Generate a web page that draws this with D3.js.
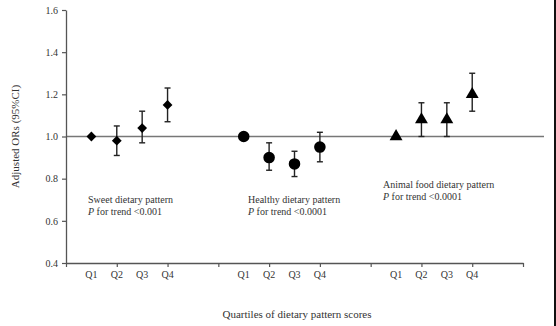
<!DOCTYPE html>
<html><head><meta charset="utf-8">
<script src="https://cdn.jsdelivr.net/npm/d3@7"></script>
<style>body{margin:0;background:#fff}svg{display:block}text{font-family:"Liberation Serif","Times New Roman",serif;fill:#333}</style>
</head><body><svg id="c" width="556" height="326"></svg>
<script>
const quartiles = ["Q1","Q2","Q3","Q4"];
const patterns = ["Sweet dietary pattern","Healthy dietary pattern","Animal food dietary pattern"];
const trendLabels = ["<0.001","<0.0001","<0.0001"];
const sweetOR = [1.00,0.98,1.04,1.15];
const sweetLo = [1.00,0.91,0.97,1.07];
const sweetHi = [1.00,1.05,1.12,1.23];
const healthyOR = [1.00,0.90,0.87,0.95];
const healthyLo = [1.00,0.84,0.81,0.88];
const healthyHi = [1.00,0.97,0.93,1.02];
const animalOR = [1.00,1.08,1.08,1.20];
const animalLo = [1.00,1.00,1.00,1.12];
const animalHi = [1.00,1.16,1.16,1.30];
const yTicks = [0.4,0.6,0.8,1.0,1.2,1.4,1.6];

const svg = d3.select("#c");
const x = d3.scaleLinear().domain([0,9]).range([66,523]);
const y = d3.scaleLinear().domain([0.4,1.6]).range([263,10]);
const axisColor = "#555";

const groups = [
  {or:sweetOR, lo:sweetLo, hi:sweetHi, shape:"diamond", off:0},
  {or:healthyOR, lo:healthyLo, hi:healthyHi, shape:"circle", off:3},
  {or:animalOR, lo:animalLo, hi:animalHi, shape:"triangle", off:6}
];
const qPos = [0.5,1,1.5,2];

svg.append("line").attr("x1",x(0)).attr("x2",544).attr("y1",y(1)).attr("y2",y(1))
  .attr("stroke","#777").attr("stroke-width",1.6);

const ya = svg.append("g").attr("transform",`translate(${x(0)},0)`)
  .call(d3.axisLeft(y).tickValues(yTicks).tickFormat(d3.format(".1f")).tickSize(4).tickSizeOuter(0));
ya.select(".domain").attr("stroke",axisColor).attr("stroke-width",1.3);
ya.selectAll(".tick line").attr("stroke",axisColor).attr("stroke-width",1.2);
ya.selectAll("text").attr("font-size",10).attr("fill","#333").attr("dx","-1px");

const xa = svg.append("g").attr("transform",`translate(0,${y(0.4)})`)
  .call(d3.axisBottom(x).tickValues(d3.range(0,10)).tickFormat("").tickSize(4).tickSizeOuter(0));
xa.select(".domain").attr("stroke",axisColor).attr("stroke-width",1.3);
xa.selectAll(".tick line").attr("stroke",axisColor).attr("stroke-width",1.2);

groups.forEach(g=>{
  quartiles.forEach((q,i)=>{
    svg.append("text").attr("x",x(g.off+qPos[i])).attr("y",278)
      .attr("text-anchor","middle").attr("font-size",10).text(q);
  });
});

const symFor = s => s==="circle" ? d3.symbol().type(d3.symbolCircle).size(105)()
  : s==="triangle" ? d3.symbol().type(d3.symbolTriangle).size(72)()
  : d3.symbol().type(d3.symbolSquare).size(48)();

groups.forEach(g=>{
  g.or.forEach((v,i)=>{
    const cx = x(g.off+qPos[i]);
    if (g.hi[i] !== g.lo[i]) {
      svg.append("line").attr("x1",cx).attr("x2",cx).attr("y1",y(g.lo[i])).attr("y2",y(g.hi[i]))
        .attr("stroke","#222").attr("stroke-width",1.4);
      [g.lo[i],g.hi[i]].forEach(e=>{
        svg.append("line").attr("x1",cx-3).attr("x2",cx+3).attr("y1",y(e)).attr("y2",y(e))
          .attr("stroke","#222").attr("stroke-width",1.4);
      });
    }
    svg.append("path").attr("d",symFor(g.shape))
      .attr("transform",`translate(${cx},${y(v)})` + (g.shape==="diamond" ? " rotate(45)" : ""))
      .attr("fill","#000");
  });
});

const annot = [[88,203],[248,203],[383,188]];
patterns.forEach((p,i)=>{
  svg.append("text").attr("x",annot[i][0]).attr("y",annot[i][1]).attr("font-size",10).text(p);
  const t = svg.append("text").attr("x",annot[i][0]).attr("y",annot[i][1]+12).attr("font-size",10);
  t.append("tspan").attr("font-style","italic").text("P");
  t.append("tspan").text(" for trend " + trendLabels[i]);
});

svg.append("text").attr("transform",`translate(19,${y(1)}) rotate(-90)`)
  .attr("text-anchor","middle").attr("font-size",11).text("Adjusted ORs (95%CI)");
svg.append("text").attr("x",297).attr("y",318).attr("text-anchor","middle")
  .attr("font-size",11).text("Quartiles of dietary pattern scores");

svg.append("rect").attr("x",554).attr("y",0).attr("width",2).attr("height",326).attr("fill","#111");
</script></body></html>
